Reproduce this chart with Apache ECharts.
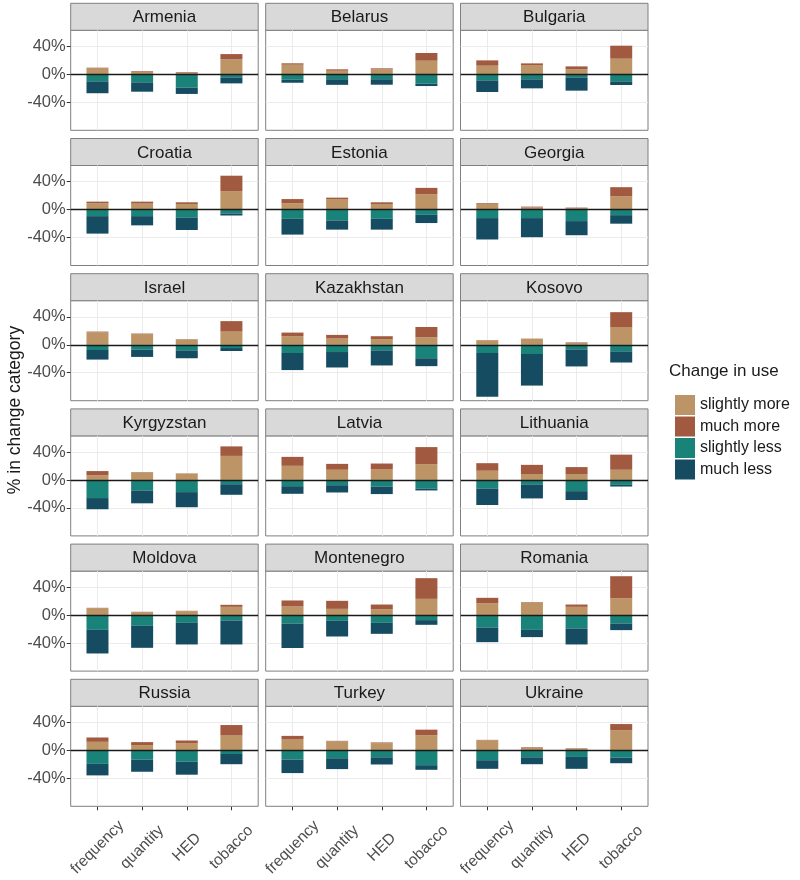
<!DOCTYPE html>
<html>
<head>
<meta charset="utf-8">
<script src="https://cdn.jsdelivr.net/npm/echarts@6/dist/echarts.min.js"></script>
<style>
  html, body { margin: 0; padding: 0; background: #fff; }
  #main { width: 800px; height: 880px; }
</style>
</head>
<body>
<div id="main"></div>
<script>
// 数据：每个国家 4 个类别（frequency, quantity, HED, tobacco）
const countries = ['Armenia', 'Belarus', 'Bulgaria', 'Croatia', 'Estonia', 'Georgia',
  'Israel', 'Kazakhstan', 'Kosovo', 'Kyrgyzstan', 'Latvia', 'Lithuania',
  'Moldova', 'Montenegro', 'Romania', 'Russia', 'Turkey', 'Ukraine']
const categories = ['frequency', 'quantity', 'HED', 'tobacco']
const yTicks = [-40, 0, 40]

// 正向：slightly more（靠近0） / much more（上方）
const slightlyMore = [
  [9, 3.5, 2, 21.4], [13.8, 5.2, 7.1, 19.5], [12.4, 13.3, 7.1, 22.4],
  [8.9, 8.5, 8, 26.4], [9, 15, 8, 22], [8.4, 3.2, 2, 18.8],
  [17.8, 15.3, 7.5, 18.8], [12.2, 8.9, 8, 10.8], [6.6, 8.9, 2.5, 25.4],
  [6.6, 11, 9, 34.4], [20.2, 14.6, 15.5, 22.6], [13.2, 8.5, 8.5, 14.6],
  [10, 4.3, 5.7, 11.9], [12.4, 9, 8.6, 23.3], [17.1, 17.8, 11.9, 24.3],
  [12.2, 7.5, 10.4, 21.2], [15.5, 12.8, 10.3, 21.6], [14.5, 4, 2, 28.7]
]
const muchMore = [
  [0.5, 1, 1, 7.6], [2, 2, 1.5, 11], [7.6, 2.4, 4.3, 18.6],
  [2.4, 2.8, 2.4, 22], [6, 2, 2.4, 9], [1, 1, 0.8, 13.2],
  [1, 0.7, 0.5, 15], [5.2, 5.2, 4.2, 14.6], [0, 0, 0.8, 21.2],
  [6.1, 0.3, 0.4, 13.6], [12.8, 8.4, 8, 24.4], [10.8, 13.1, 9.9, 21.6],
  [0.5, 0.5, 0.5, 2.9], [8.6, 11.5, 6.6, 29.6], [7.7, 0.8, 3.3, 31.4],
  [6.2, 4.3, 3.7, 15], [5.2, 0.8, 1, 8], [0.5, 0.7, 0.8, 8.9]
]
// 负向：slightly less（靠近0） / much less（下方）
const slightlyLess = [
  [-10, -11.4, -19, -4.3], [-7.6, -7, -7, -13.3], [-8.6, -7.1, -4.3, -10],
  [-9.4, -9.4, -11.3, -5.6], [-13.2, -15.5, -13.2, -7.5], [-12.2, -12.2, -16.5, -8],
  [-7.5, -7, -8, -4.7], [-11.8, -10.4, -8, -19.3], [-11.8, -13.2, -6.6, -9.4],
  [-25.9, -15, -17.4, -6.1], [-8.9, -7.5, -9.4, -12.2], [-12.2, -7, -16, -7],
  [-21, -15.2, -11, -7.6], [-11.9, -8.1, -11, -7.1], [-17.6, -21, -19, -11.9],
  [-19.3, -13.2, -16, -5.2], [-13.2, -11.3, -9.9, -21.2], [-14.1, -9.9, -9.4, -10.4]
]
const muchLess = [
  [-17, -13.4, -9, -8.6], [-4.4, -8, -7.8, -3.4], [-16.6, -12.9, -19, -5.2],
  [-25, -13.2, -17.9, -2.9], [-22.6, -13.2, -15.5, -11.8], [-30.6, -27.3, -20.2, -12.2],
  [-13.7, -10.4, -11.3, -4.2], [-24.4, -22.1, -21.6, -11.3], [-62.6, -45.2, -24.4, -16],
  [-16, -18.4, -21.6, -15.1], [-10.9, -10.4, -10.8, -2.8], [-23.6, -19.4, -12.7, -2.4],
  [-33.8, -31.5, -30.9, -34.3], [-35.1, -22.4, -15.7, -6.7], [-21, -10.4, -22.9, -9.5],
  [-16.5, -17.4, -18.8, -14.6], [-19.3, -15.5, -10.3, -6.6], [-12.3, -9.9, -17, -8]
]

const seriesDefs = [
  { name: 'slightly more', values: slightlyMore, color: '#BC9466' },
  { name: 'much more', values: muchMore, color: '#A15A3F' },
  { name: 'slightly less', values: slightlyLess, color: '#1A8379' },
  { name: 'much less', values: muchLess, color: '#154C61' }
]

// 版面
const colLeft = [70.7, 265.7, 460.5]
const panelW = 187.5
const stripH = 27
const plotH = 100
const rowStep = 135.2
const font = 'Liberation Sans, Arial, Helvetica, sans-serif'

const grids = [], xAxes = [], yAxes = [], series = [], graphics = []

countries.forEach((country, i) => {
  const r = Math.floor(i / 3), c = i % 3
  const stripTop = 3.3 + r * rowStep
  const isBottom = r === 5, isLeft = c === 0

  grids.push({
    left: colLeft[c], top: stripTop + stripH, width: panelW, height: plotH,
    show: true, borderColor: '#7F7F7F', borderWidth: 1, backgroundColor: 'transparent'
  })
  xAxes.push({
    type: 'value', gridIndex: i, min: -0.6, max: 3.6, position: 'bottom',
    axisLine: { show: false, onZero: false },
    splitLine: { show: false },
    axisTick: { show: isBottom, customValues: [0, 1, 2, 3], length: 4, lineStyle: { color: '#333' } },
    axisLabel: {
      show: isBottom, customValues: [0, 1, 2, 3], rotate: 45, margin: 41,
      align: 'center', verticalAlign: 'middle',
      formatter: v => categories[Math.round(v)] || '',
      fontSize: 15.5, color: '#4D4D4D', fontFamily: font
    }
  })
  yAxes.push({
    type: 'value', gridIndex: i, min: -80, max: 63, interval: 20, position: 'left',
    axisLine: { show: false, onZero: false },
    splitLine: { show: true, lineStyle: { color: '#EBEBEB', width: 1 } },
    axisTick: { show: isLeft, customValues: yTicks, length: 4, lineStyle: { color: '#333' } },
    axisLabel: {
      show: isLeft, customValues: yTicks, margin: 5,
      formatter: v => v + '%', fontSize: 16.5, color: '#4D4D4D', fontFamily: font
    }
  })

  seriesDefs.forEach((s, k) => {
    // 数据写成 [值, 类别位置]，再用 encode 映射，好让堆叠落在 y 维度上
    const item = {
      type: 'bar', name: s.name, xAxisIndex: i, yAxisIndex: i,
      stack: 'panel' + i, barWidth: 22,
      encode: { x: 1, y: 0 },
      itemStyle: { color: s.color },
      data: categories.map((cat, j) => [s.values[i][j], j])
    }
    if (k === 0) {
      // 竖向网格线
      item.markLine = {
        z: 1, silent: true, symbol: 'none', label: { show: false },
        lineStyle: { color: '#EBEBEB', width: 1, type: 'solid' },
        data: categories.map((cat, j) => ({ xAxis: j }))
      }
    }
    if (k === 3) {
      // 0 线
      item.markLine = {
        z: 10, silent: true, symbol: 'none', label: { show: false },
        lineStyle: { color: '#1A1A1A', width: 1.3, type: 'solid' },
        data: [{ yAxis: 0 }]
      }
    }
    series.push(item)
  })

  graphics.push({
    type: 'rect', silent: true,
    shape: { x: colLeft[c], y: stripTop, width: panelW, height: stripH },
    style: { fill: '#D9D9D9', stroke: '#7F7F7F', lineWidth: 1 }
  })
  graphics.push({
    type: 'text', silent: true, x: colLeft[c] + panelW / 2, y: stripTop + stripH / 2 + 1,
    style: { text: country, fill: '#1A1A1A', font: '17px ' + font, textAlign: 'center', textVerticalAlign: 'middle' }
  })
})

graphics.push({
  type: 'text', silent: true, x: 15, y: 410, rotation: Math.PI / 2,
  style: { text: '% in change category', fill: '#1A1A1A', font: '17.5px ' + font, textAlign: 'center', textVerticalAlign: 'middle' }
})
graphics.push({
  type: 'text', silent: true, x: 669, y: 371,
  style: { text: 'Change in use', fill: '#1A1A1A', font: '17px ' + font, textAlign: 'left', textVerticalAlign: 'middle' }
})

const myChart = echarts.init(document.getElementById('main'), null, { renderer: 'canvas' })
myChart.setOption({
  animation: false,
  backgroundColor: '#fff',
  textStyle: { fontFamily: font },
  legend: {
    data: seriesDefs.map(s => s.name),
    orient: 'vertical', left: 670, top: 390,
    itemWidth: 20, itemHeight: 20, itemGap: 1.5, icon: 'rect',
    textStyle: { fontSize: 16, color: '#1A1A1A', fontFamily: font }
  },
  grid: grids,
  xAxis: xAxes,
  yAxis: yAxes,
  series: series,
  graphic: graphics
})
</script>
</body>
</html>
